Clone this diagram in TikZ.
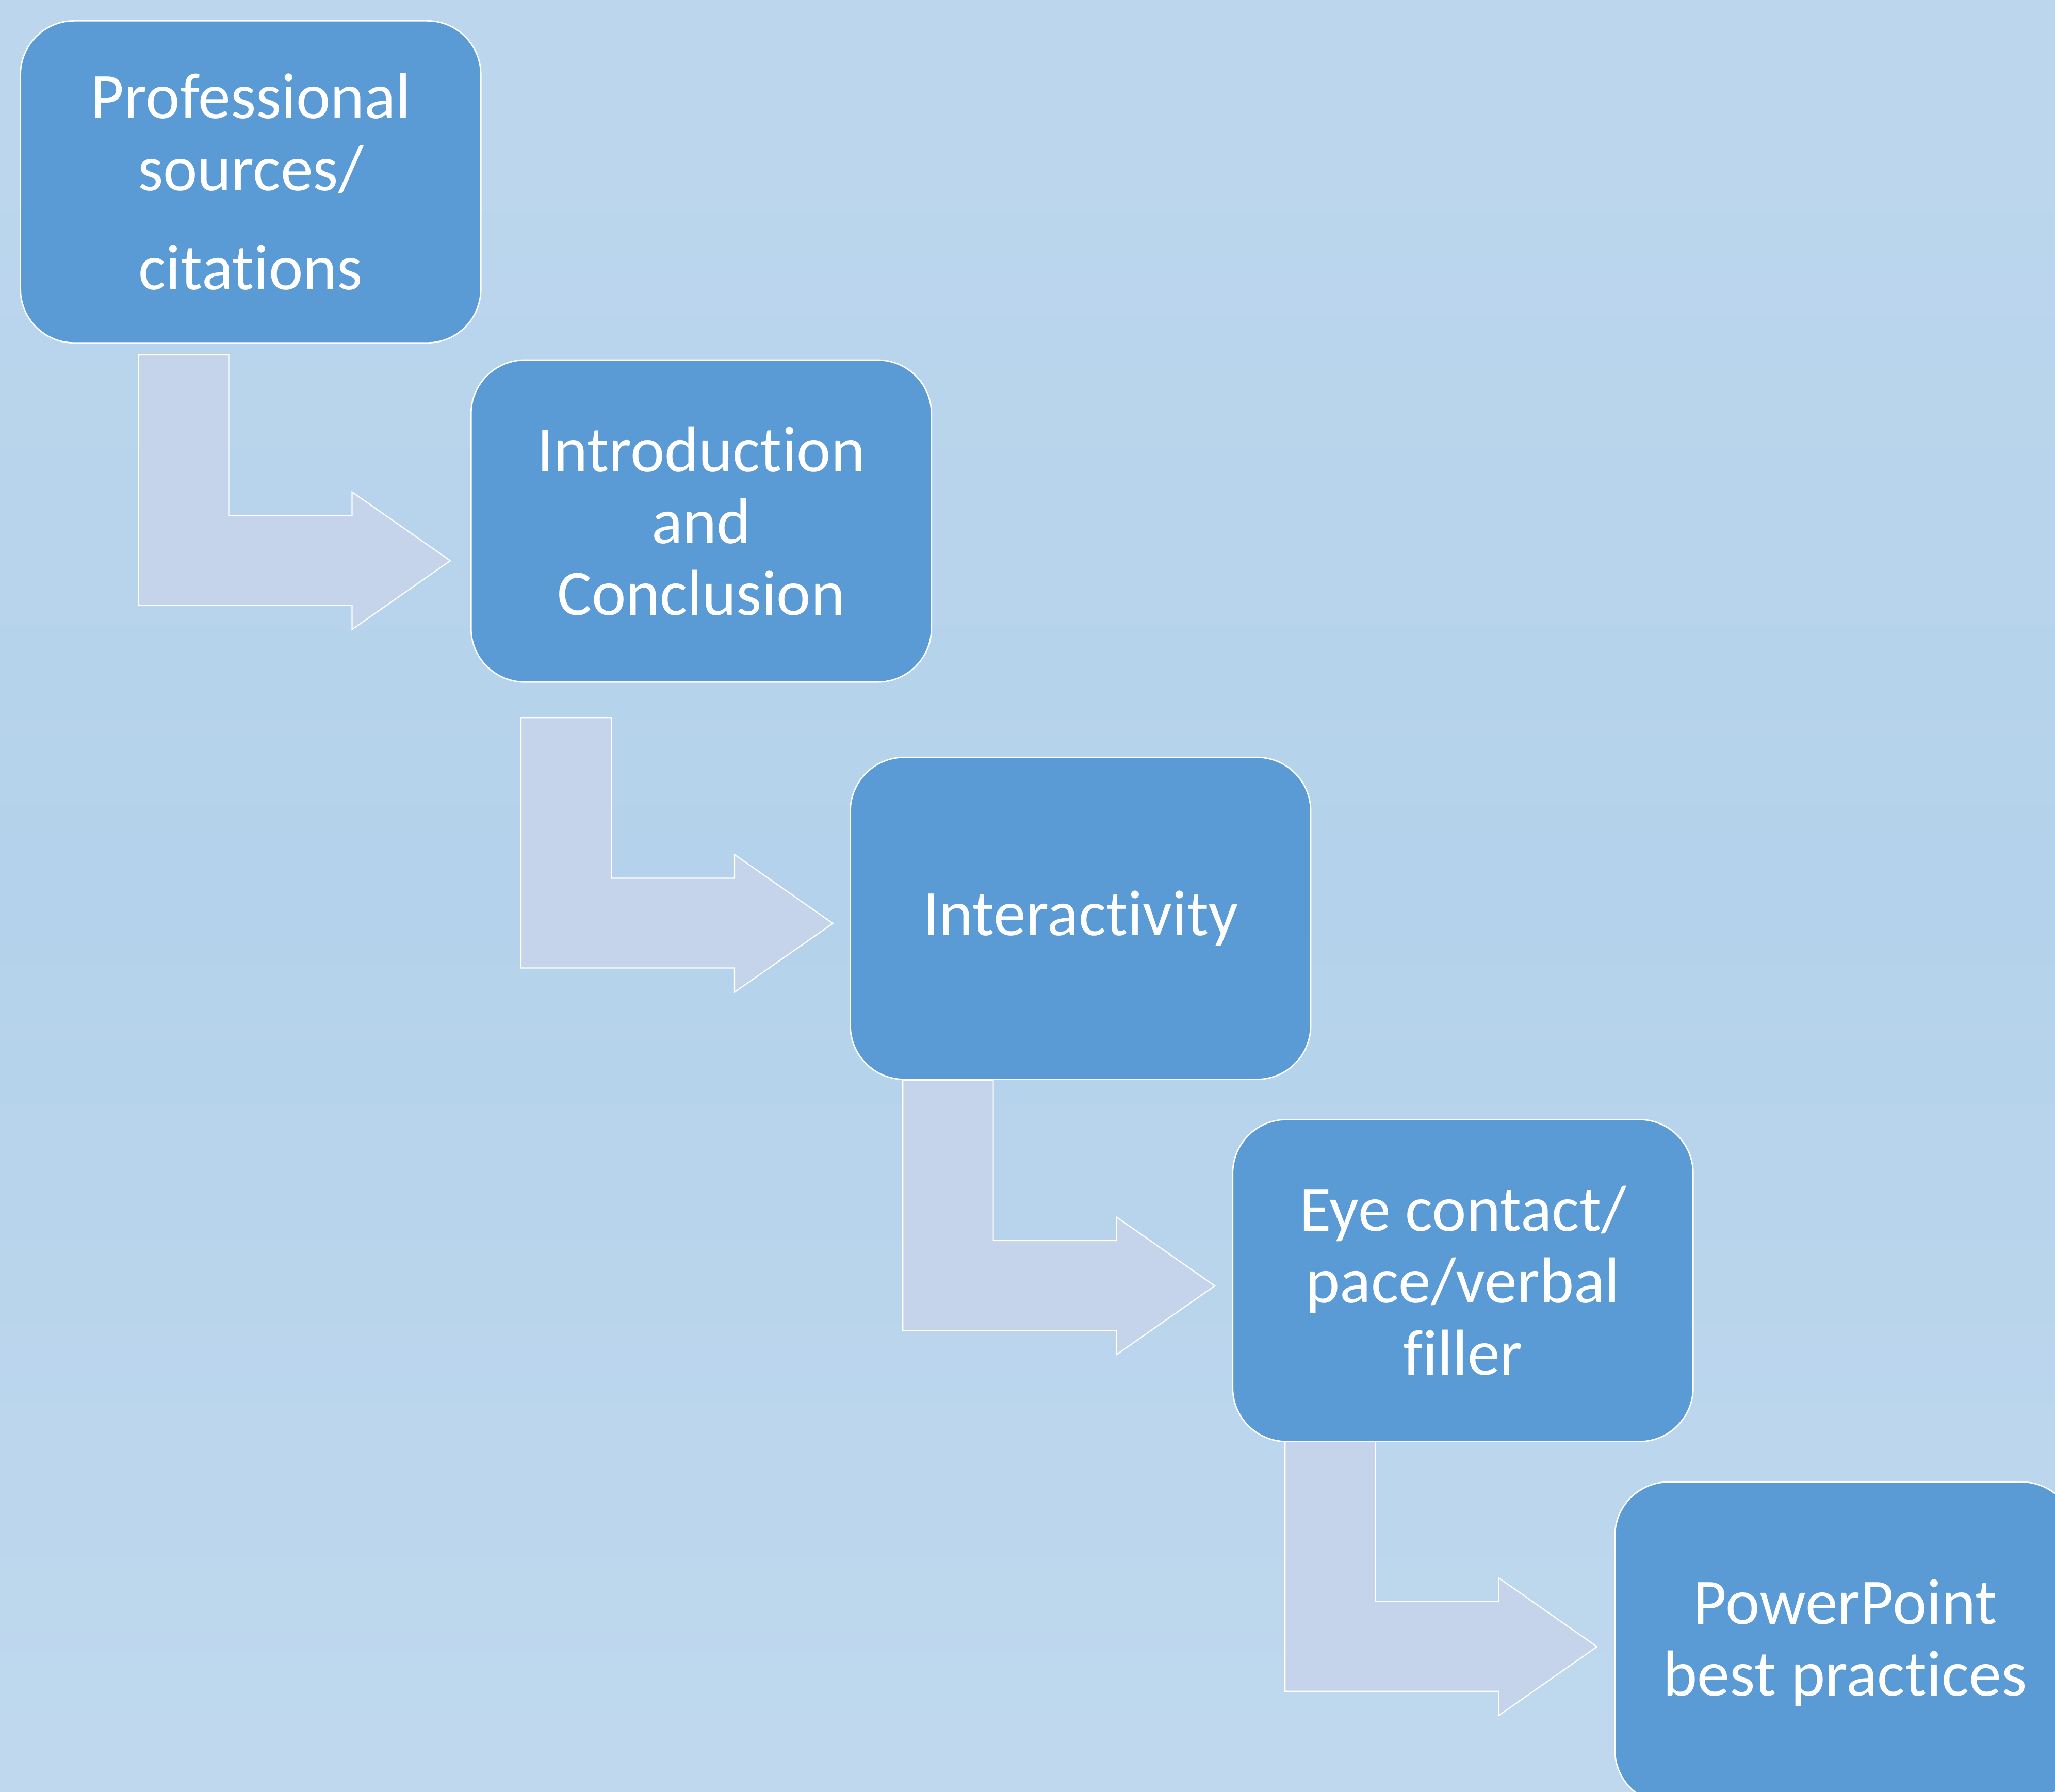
\documentclass[tikz,border=0pt]{standalone}
\usepackage{fontspec}
\setmainfont{Carlito}[Ligatures=NoCommon]
\usetikzlibrary{calc}

\definecolor{bgtop}{RGB}{197,220,240}
\definecolor{bgmid}{RGB}{180,210,235}
\definecolor{bgbot}{RGB}{203,223,241}
\definecolor{boxblue}{RGB}{91,155,213}
\definecolor{arrowfill}{RGB}{197,212,234}

\pgfdeclareverticalshading{slidebg}{100bp}{color(0bp)=(bgbot); color(50bp)=(bgmid); color(100bp)=(bgtop)}
\pgfdeclarelayer{back}
\pgfdeclarelayer{mid}
\pgfsetlayers{back,mid,main}

\tikzset{
  stepbox/.style={draw=white, line width=0.3pt, fill=boxblue, rounded corners=4.1mm,
    minimum width=35.13mm, minimum height=24.57mm, inner sep=0pt, align=center,
    text=white, font=\fontsize{14.1pt}{15.6pt}\selectfont},
  pics/bentarrow/.style={code={
    \filldraw[fill=arrowfill, draw=white, line width=0.25pt]
      (0,0) -- (69,0) -- (69,122.5) -- (163,122.5) -- (163,104.5) -- (238,157)
      -- (163,209.5) -- (163,191) -- (0,191) -- cycle;}}
}

\begin{document}
\begin{tikzpicture}[x=0.1mm, y=-0.1mm]
  \useasboundingbox (0,0) rectangle (1568,1367);

  % step boxes
  \node[stepbox] (b1) at (191.25,138.75) {Professional\\sources/\\[2.1mm]citations};
  \node[stepbox] (b2) at (535.05,397.55) {Introduction\\and\\Conclusion};
  \node[stepbox] (b3) at (824.45,700.7) {Interactivity};
  \node[stepbox] (b4) at (1116.2,977.05) {Eye contact/\\pace/verbal\\filler};
  \begin{scope}
    \clip (0,0) rectangle (1568,1367);
    \node[stepbox] (b5) at (1407.85,1253.55) {PowerPoint\\best practices};
  \end{scope}

  % bent block arrows between the steps
  \begin{pgfonlayer}{mid}
    \pic at ($(b1.south west)+(90.5,8.7)$) {bentarrow};
    \pic at ($(b2.south west)+(38.6,26.6)$) {bentarrow};
    \pic at ($(b3.south west)+(40.6,0)$) {bentarrow};
    \pic at ($(b4.south west)+(40.5,-1)$) {bentarrow};
  \end{pgfonlayer}

  % slide background
  \begin{pgfonlayer}{back}
    \fill[shading=slidebg] (0,0) rectangle (1568,1367);
  \end{pgfonlayer}
\end{tikzpicture}
\end{document}
